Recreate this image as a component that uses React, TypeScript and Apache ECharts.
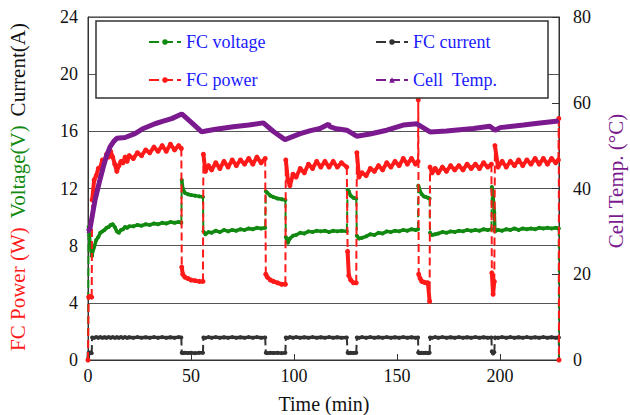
import React, { useEffect, useRef } from "react";
import * as echarts from "echarts";

// Shared time base (min) for power, voltage and current
const timeMin = [
  0, 0.3, 1.0, 1.8,
  2.0, 3, 4, 5, 6, 7, 8, 9, 10, 11, 12, 13, 14, 15, 16, 17, 18, 19, 20, 22, 24, 26, 28, 30, 32, 34, 36, 38, 40, 42, 44, 45.3,
  45.5, 46, 47, 48.5, 50, 52, 54, 55.8,
  56, 57, 58.5, 60, 62, 64, 66, 68, 70, 72, 74, 76, 78, 80, 82, 84, 86,
  86.3, 87, 88.5, 90, 92, 94, 95.8,
  96, 97, 98, 99.5, 101, 103, 105, 107, 109, 111, 113, 115, 117, 119, 121, 123, 125.6,
  126, 126.6, 127.5, 128.8, 130.2,
  130.5, 131.5, 133, 135, 137, 139, 141, 143, 145, 147, 149, 151, 153, 155, 157, 159, 160.2,
  160.3, 160.5, 161.2, 162, 163, 164, 165, 165.8,
  166, 167, 168.5, 170, 172, 174, 176, 178, 180, 182, 184, 186, 188, 190, 192, 194, 195.8,
  196, 196.6, 197.2,
  197.5, 199, 201, 203, 205, 207, 209, 211, 213, 215, 217, 219, 221, 223, 225, 227, 228.3,
  228.5, 228.6,
];

const powerW = [
  0, 4.4, 4.45, 4.4,
  11.2, 12.6, 12.9, 13.4, 13.5, 14.0, 13.9, 14.4, 14.2, 14.6, 14.2, 13.7, 13.2, 13.6, 13.9, 13.8, 14.2, 13.9, 14.3, 14.1, 14.5, 14.3, 14.7, 14.5, 14.9, 14.6, 15.0, 14.6, 15.1, 14.7, 15.0, 14.8,
  6.5, 6.0, 5.8, 5.7, 5.6, 5.55, 5.5, 5.5,
  14.4, 13.2, 13.6, 13.3, 13.8, 13.4, 13.9, 13.5, 14.0, 13.6, 14.0, 13.7, 14.1, 13.7, 14.2, 13.8, 14.1,
  6.0, 5.8, 5.6, 5.5, 5.4, 5.3, 5.3,
  14.0, 12.6, 12.2, 13.0, 12.8, 13.4, 13.1, 13.7, 13.4, 13.9, 13.5, 13.9, 13.5, 13.9, 13.5, 13.8, 13.5,
  7.6, 5.9, 5.6, 5.4, 5.4,
  14.5, 12.8, 13.1, 12.9, 13.4, 13.2, 13.6, 13.3, 13.8, 13.5, 13.9, 13.6, 14.1, 13.7, 14.1, 13.7, 13.9,
  18.2, 6.0, 5.7, 5.5, 5.45, 5.4, 5.4, 4.1,
  13.5, 13.1, 13.4, 13.1, 13.5, 13.2, 13.6, 13.3, 13.6, 13.3, 13.7, 13.4, 13.7, 13.4, 13.8, 13.5, 13.7,
  6.1, 4.6, 5.5,
  15.0, 13.5, 13.9, 13.5, 13.9, 13.6, 14.0, 13.6, 14.0, 13.7, 14.1, 13.7, 14.1, 13.7, 14.1, 13.8, 14.0,
  16.9, 0,
];

const voltageV = [
  0, 9.3, 8.2, 7.3,
  7.3, 7.9, 8.4, 8.6, 8.9, 9.0, 9.1, 9.25, 9.3, 9.45, 9.5, 9.3, 9.0, 8.9, 9.1, 9.15, 9.3, 9.25, 9.35, 9.35, 9.45, 9.4, 9.5, 9.45, 9.55, 9.5, 9.6, 9.55, 9.65, 9.6, 9.65, 9.6,
  12.6, 12.0, 11.7, 11.6, 11.55, 11.5, 11.45, 11.4,
  9.0, 8.8, 8.95, 8.9, 9.05, 8.95, 9.1, 9.0, 9.1, 9.05, 9.15, 9.1, 9.2, 9.15, 9.25, 9.2, 9.25,
  11.8, 11.7, 11.5, 11.4, 11.3, 11.25, 11.2,
  8.6, 8.2, 8.5, 8.7, 8.75, 8.9, 8.85, 9.0, 8.95, 9.05, 9.0, 9.05, 8.95, 9.05, 9.0, 9.05, 9.0,
  11.9, 11.8, 11.5, 11.35, 11.3,
  8.7, 8.5, 8.55, 8.65, 8.8, 8.75, 8.9, 8.85, 9.0, 8.95, 9.05, 9.0, 9.1, 9.05, 9.15, 9.1, 9.15,
  12.2, 12.1, 11.8, 11.6, 11.45, 11.4, 11.35, 11.3,
  8.9, 8.75, 8.8, 8.85, 8.95, 8.9, 9.0, 8.95, 9.05, 9.0, 9.1, 9.05, 9.1, 9.05, 9.15, 9.1, 9.15,
  12.1, 11.5, 10.3,
  9.0, 9.1, 9.05, 9.15, 9.1, 9.2, 9.1, 9.2, 9.15, 9.2, 9.15, 9.25, 9.2, 9.25, 9.2, 9.25, 9.2,
  9.2, 0,
];

const currentA = [
  0, 0.5, 0.52, 0.48,
  1.58, 1.55, 1.6, 1.56, 1.6, 1.55, 1.59, 1.56, 1.6, 1.56, 1.6, 1.55, 1.59, 1.56, 1.6, 1.56, 1.6, 1.55, 1.59, 1.56, 1.6, 1.55, 1.59, 1.56, 1.6, 1.56, 1.6, 1.55, 1.59, 1.56, 1.6, 1.57,
  0.5, 0.48, 0.51, 0.49, 0.5, 0.48, 0.51, 0.5,
  1.58, 1.55, 1.6, 1.56, 1.6, 1.55, 1.59, 1.56, 1.6, 1.55, 1.59, 1.56, 1.6, 1.56, 1.6, 1.55, 1.58,
  0.5, 0.48, 0.51, 0.49, 0.5, 0.48, 0.5,
  1.58, 1.55, 1.6, 1.56, 1.6, 1.55, 1.59, 1.56, 1.6, 1.55, 1.59, 1.56, 1.6, 1.55, 1.59, 1.56, 1.58,
  0.5, 0.48, 0.51, 0.49, 0.5,
  1.58, 1.55, 1.6, 1.56, 1.6, 1.55, 1.59, 1.56, 1.6, 1.55, 1.59, 1.56, 1.6, 1.55, 1.59, 1.56, 1.58,
  0.52, 0.5, 0.48, 0.51, 0.49, 0.5, 0.48, 0.5,
  1.58, 1.55, 1.6, 1.56, 1.6, 1.55, 1.59, 1.56, 1.6, 1.55, 1.59, 1.56, 1.6, 1.55, 1.59, 1.56, 1.58,
  0.6, 0.45, 0.55,
  1.58, 1.55, 1.6, 1.56, 1.6, 1.55, 1.59, 1.56, 1.6, 1.55, 1.59, 1.56, 1.6, 1.55, 1.59, 1.56, 1.58,
  1.58, 0,
];

// Cell temperature (°C), right axis
const tempTime = [
  0, 1, 3.4, 5.5, 7.4, 9, 10.7, 12.5, 14, 18, 22.8, 26.9, 32.5, 36.5, 40.6, 45.5, 50, 55.2, 57.2,
  62, 70.5, 78, 85.1, 90, 95.6, 103, 108, 112.6, 116.7, 117.5, 119.9, 125.6, 130.4, 136.9, 145,
  153, 159.6, 166, 174, 187, 195, 197.6, 200, 211.3, 219.4, 228.3,
];
const tempC = [
  30.0, 30.7, 37.3, 41.5, 45.0, 47.6, 49.7, 51.0, 51.7, 51.9, 52.8, 54.0, 55.1, 55.7, 56.3, 57.4, 55.5, 53.2, 53.4,
  53.8, 54.4, 54.8, 55.3, 53.3, 51.4, 52.8, 53.5, 54.0, 55.0, 54.4, 54.0, 53.6, 52.2, 52.7, 53.6,
  54.8, 55.1, 53.2, 53.4, 54.0, 54.5, 53.6, 54.2, 54.8, 55.3, 55.75,
];

const xTicks = [0, 50, 100, 150, 200];
const leftTicks = [0, 4, 8, 12, 16, 20, 24];
const rightTicks = [0, 20, 40, 60, 80];

const FONT = "Liberation Serif";
const RED = "#ff1a1a";
const GREEN = "#128a12";
const BLACK = "#333333";
const PURPLE = "#7b1a8e";
const BLUE = "#1a1aff";

// Split a trace into its steady (solid) part and its step jumps (dashed)
function splitTrace(vals: number[], jump: number) {
  const steady: any[] = [];
  const steps: any[] = [];
  for (let i = 0; i < timeMin.length; i++) {
    if (i > 0 && Math.abs(vals[i] - vals[i - 1]) > jump) {
      steady.push([(timeMin[i - 1] + timeMin[i]) / 2, "-"]);
      steps.push([timeMin[i - 1], vals[i - 1]], [timeMin[i], vals[i]], [timeMin[i], "-"]);
    }
    steady.push([timeMin[i], vals[i]]);
  }
  return { steady, steps };
}

export default function App() {
  const ref = useRef<HTMLDivElement>(null);
  useEffect(() => {
    document.body.style.margin = "0";
    if (!ref.current) return;
    const chart = echarts.init(ref.current, undefined, { renderer: "svg" });
    const labelStyle = { fontFamily: FONT, fontSize: 18, color: "#111" };
    const legendBase = {
      orient: "vertical",
      top: 33,
      padding: 0,
      itemGap: 20,
      itemWidth: 32,
      itemHeight: 7,
      z: 20,
      textStyle: { fontFamily: FONT, fontSize: 18, color: BLUE },
      lineStyle: { width: 2, type: [10, 4] },
    };
    const mk = (name: string, data: any, color: string, width: number, yAxisIndex: number, type: any, symbol: string, size: number, z: number) => ({
      name,
      type: "line",
      data,
      yAxisIndex,
      z,
      connectNulls: false,
      showSymbol: true,
      showAllSymbol: true,
      symbol,
      symbolSize: size,
      itemStyle: { color },
      lineStyle: { color, width, type },
    });
    const cur = splitTrace(currentA, 0.5);
    const vol = splitTrace(voltageV, 1.5);
    const pow = splitTrace(powerW, 2.5);
    chart.setOption({
      animation: false,
      backgroundColor: "#fff",
      textStyle: { fontFamily: FONT },
      grid: { left: 88, right: 71, top: 17, bottom: 55, show: true, borderColor: "#333", borderWidth: 1 },
      xAxis: {
        type: "value",
        min: 0,
        max: 228.6,
        interval: 50,
        axisLine: { show: true, lineStyle: { color: "#333" } },
        axisTick: { show: true, inside: true, length: 6, lineStyle: { color: "#333" } },
        splitLine: { show: false },
        axisLabel: {
          ...labelStyle,
          margin: 7,
          showMaxLabel: false,
          formatter: (v: number) => (xTicks.includes(v) ? String(v) : ""),
        },
      },
      yAxis: [
        {
          type: "value",
          min: 0,
          max: 24,
          interval: 4,
          position: "left",
          axisLine: { show: true, lineStyle: { color: "#333" } },
          axisTick: { show: false },
          splitLine: { show: true, lineStyle: { color: "#555", width: 1 } },
          axisLabel: { ...labelStyle, margin: 10, formatter: (v: number) => (leftTicks.includes(v) ? String(v) : "") },
        },
        {
          type: "value",
          min: 0,
          max: 80,
          interval: 20,
          position: "right",
          axisLine: { show: true, lineStyle: { color: "#333" } },
          axisTick: { show: true, inside: true, length: 7, lineStyle: { color: "#333" } },
          splitLine: { show: false },
          axisLabel: { ...labelStyle, margin: 14, formatter: (v: number) => (rightTicks.includes(v) ? String(v) : "") },
        },
      ],
      legend: [
        { ...legendBase, left: 148, data: ["FC voltage", "FC power"] },
        { ...legendBase, left: 375, data: ["FC current", "Cell  Temp."] },
      ],
      graphic: [
        {
          type: "rect",
          z: 10,
          shape: { x: 96, y: 21, width: 452, height: 77 },
          style: { fill: "#fff", stroke: "#333", lineWidth: 1.5 },
        },
        {
          type: "text",
          z: 10,
          x: 18,
          y: 187,
          rotation: Math.PI / 2,
          style: {
            text: "{p|FC Power (W)}{v|Voltage(V)}{c|Current(A)}",
            font: "21px Liberation Serif",
            align: "center",
            verticalAlign: "middle",
            rich: {
              p: { fill: RED, font: "21px Liberation Serif" },
              v: { fill: GREEN, font: "21px Liberation Serif", padding: [0, 9, 0, 9] },
              c: { fill: "#111", font: "21px Liberation Serif" },
            },
          },
        },
        {
          type: "text",
          z: 10,
          x: 616,
          y: 181,
          rotation: Math.PI / 2,
          style: {
            text: "Cell Temp. (°C)",
            fill: PURPLE,
            font: "21px Liberation Serif",
            align: "center",
            verticalAlign: "middle",
          },
        },
        {
          type: "text",
          z: 10,
          x: 324,
          y: 404,
          style: {
            text: "Time (min)",
            fill: "#111",
            font: "20px Liberation Serif",
            align: "center",
            verticalAlign: "middle",
          },
        },
      ],
      series: [
        mk("FC current", cur.steady, BLACK, 3.5, 0, "solid", "circle", 4, 2),
        mk("FC current steps", cur.steps, BLACK, 2, 0, [8, 4], "circle", 3, 2),
        mk("FC voltage", vol.steady, GREEN, 3.5, 0, "solid", "circle", 4, 3),
        mk("FC voltage steps", vol.steps, GREEN, 2, 0, [8, 4], "circle", 3, 3),
        mk("FC power", pow.steady, RED, 4, 0, "solid", "circle", 5, 4),
        mk("FC power steps", pow.steps, RED, 2, 0, [8, 4], "circle", 3, 4),
        mk("Cell  Temp.", tempTime.map((t, i) => [t, tempC[i]]), PURPLE, 5, 1, "solid", "triangle", 3, 5),
      ],
    });
    return () => chart.dispose();
  }, []);
  return <div ref={ref} style={{ width: 630, height: 415 }} />;
}
